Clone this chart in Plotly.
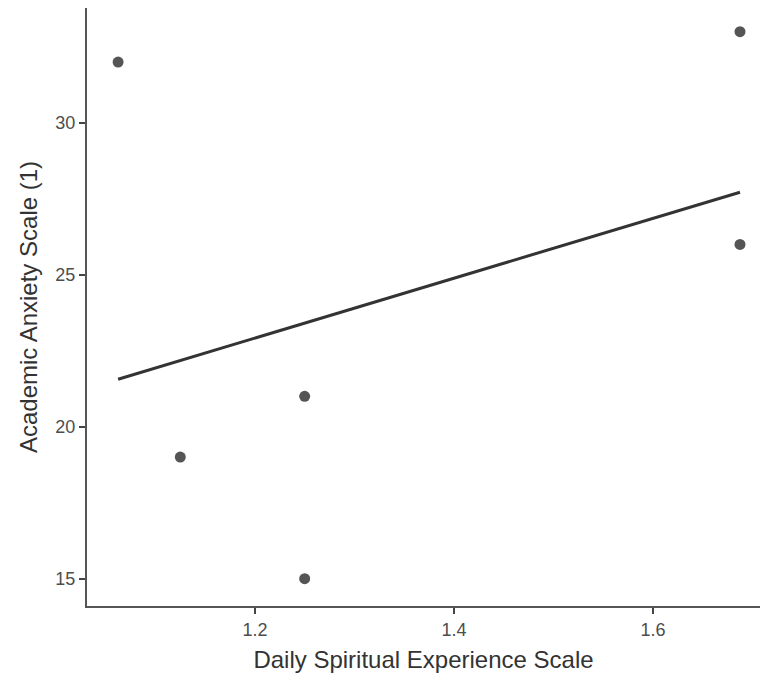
import numpy as np
import plotly.graph_objects as go

x_vals = [1.0625, 1.125, 1.25, 1.25, 1.6875, 1.6875]
y_vals = [32, 19, 21, 15, 33, 26]
x_ticks = [1.2, 1.4, 1.6]
x_tick_labels = ["1.2", "1.4", "1.6"]
y_ticks = [15, 20, 25, 30]
y_tick_labels = ["15", "20", "25", "30"]

xa = np.array(x_vals)
ya = np.array(y_vals)
slope, intercept = np.polyfit(xa, ya, 1)
line_x = np.array([xa.min(), xa.max()])
line_y = slope * line_x + intercept

fig = go.Figure()
fig.add_trace(go.Scatter(x=line_x, y=line_y, mode="lines",
                         line=dict(color="#333333", width=3), hoverinfo="skip"))
fig.add_trace(go.Scatter(x=x_vals, y=y_vals, mode="markers",
                         marker=dict(color="#555555", size=11)))

fig.update_layout(
    width=752, height=670,
    margin=dict(l=79, r=0, t=0, b=72),
    plot_bgcolor="white", paper_bgcolor="white",
    showlegend=False,
    font=dict(family="Liberation Sans, Arial, sans-serif"),
    xaxis=dict(
        range=[1.03125, 1.7076], tickvals=x_ticks, ticktext=x_tick_labels,
        showgrid=False, zeroline=False, showline=True, linecolor="#555555", linewidth=2,
        ticks="outside", ticklen=6, tickwidth=2, tickcolor="#444444",
        tickfont=dict(size=18, color="#4d4d4d"), automargin=False,
        title=dict(text="Daily Spiritual Experience Scale", font=dict(size=24, color="#333333"), standoff=13),
    ),
    yaxis=dict(
        range=[14.1, 33.78], tickvals=y_ticks, ticktext=y_tick_labels,
        showgrid=False, zeroline=False, showline=True, linecolor="#555555", linewidth=2,
        ticks="outside", ticklen=6, tickwidth=2, tickcolor="#444444",
        tickfont=dict(size=18, color="#4d4d4d"), automargin=False,
        title=dict(text="Academic Anxiety Scale (1)", font=dict(size=24, color="#333333"), standoff=11),
    ),
)

fig.write_html("out.html")
